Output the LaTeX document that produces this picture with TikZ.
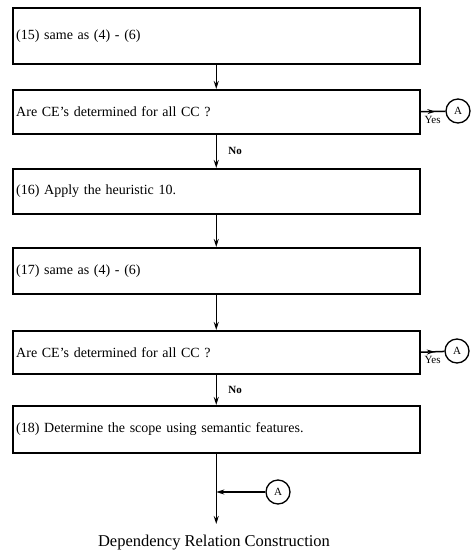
\documentclass[tikz,border=0pt]{standalone}
\usepackage{fontspec}
\setmainfont{Liberation Serif}
\usetikzlibrary{arrows.meta, positioning, calc, decorations.markings}

\begin{document}
\begin{tikzpicture}[x=1pt, y=-1pt,
  box/.style={draw, line width=1.5pt, anchor=north west, minimum width=407pt, text width=400pt, align=left, inner xsep=3pt, font=\fontsize{14}{16}\selectfont},
  arr/.style={-{Stealth[length=8pt, width=5pt]}, line width=1.5pt},
  yesarr/.style={line width=1.5pt, decoration={markings, mark=at position 0.6 with {\arrow{Stealth[length=8pt, width=5pt]}}}, postaction={decorate}},
  conn/.style={circle, draw, line width=1.3pt, minimum size=24pt, inner sep=0pt, font=\fontsize{11}{12}\selectfont},
  lbl/.style={font=\fontsize{11}{12}\selectfont\bfseries}
]
  \useasboundingbox (0,0) rectangle (472,550);

  % Steps and checks
  \node[box, minimum height=56pt] (s15) at (12,7) {(15) same as (4) - (6)};
  \node[box, minimum height=44pt] (q1) at (12,89) {Are CE's determined for all CC ?};
  \node[box, minimum height=45pt] (s16) at (12,168) {(16) Apply the heuristic 10.};
  \node[box, minimum height=46pt] (s17) at (12,247) {(17) same as (4) - (6)};
  \node[box, minimum height=43pt] (q2) at (12,330) {Are CE's determined for all CC ?};
  \node[box, minimum height=47pt] (s18) at (12,405) {(18) Determine the scope using semantic features.};

  % Connectors A
  \node[conn] (a1) at (458,111) {A};
  \node[conn] (a2) at (457,351) {A};
  \node[conn] (a3) at (278,492) {A};

  % Main flow
  \draw[arr] (s15) -- (q1);
  \draw[arr] (q1) -- node[lbl, right=8pt] (no1) {No} (s16);
  \draw[arr] (s16) -- (s17);
  \draw[arr] (s17) -- (q2);
  \draw[arr] (q2) -- node[lbl, right=8pt] (no2) {No} (s18);

  % Yes exits
  \draw[yesarr] (q1.east) -- node[pos=0, below right, font=\fontsize{11}{12}\selectfont] (yes1) {Yes} (a1);
  \draw[yesarr] (q2.east) -- node[pos=0, below right, font=\fontsize{11}{12}\selectfont] (yes2) {Yes} (a2);

  % Exit
  \node[font=\fontsize{16.5}{18}\selectfont] (drc) at (214,543) {Dependency Relation Construction};
  \coordinate (join) at (s18.south |- a3.west);
  \coordinate (end) at (s18.south |- 0,524);
  \draw[arr] (s18) -- (end);
  \draw[arr] (a3) -- (join);

\end{tikzpicture}
\end{document}
